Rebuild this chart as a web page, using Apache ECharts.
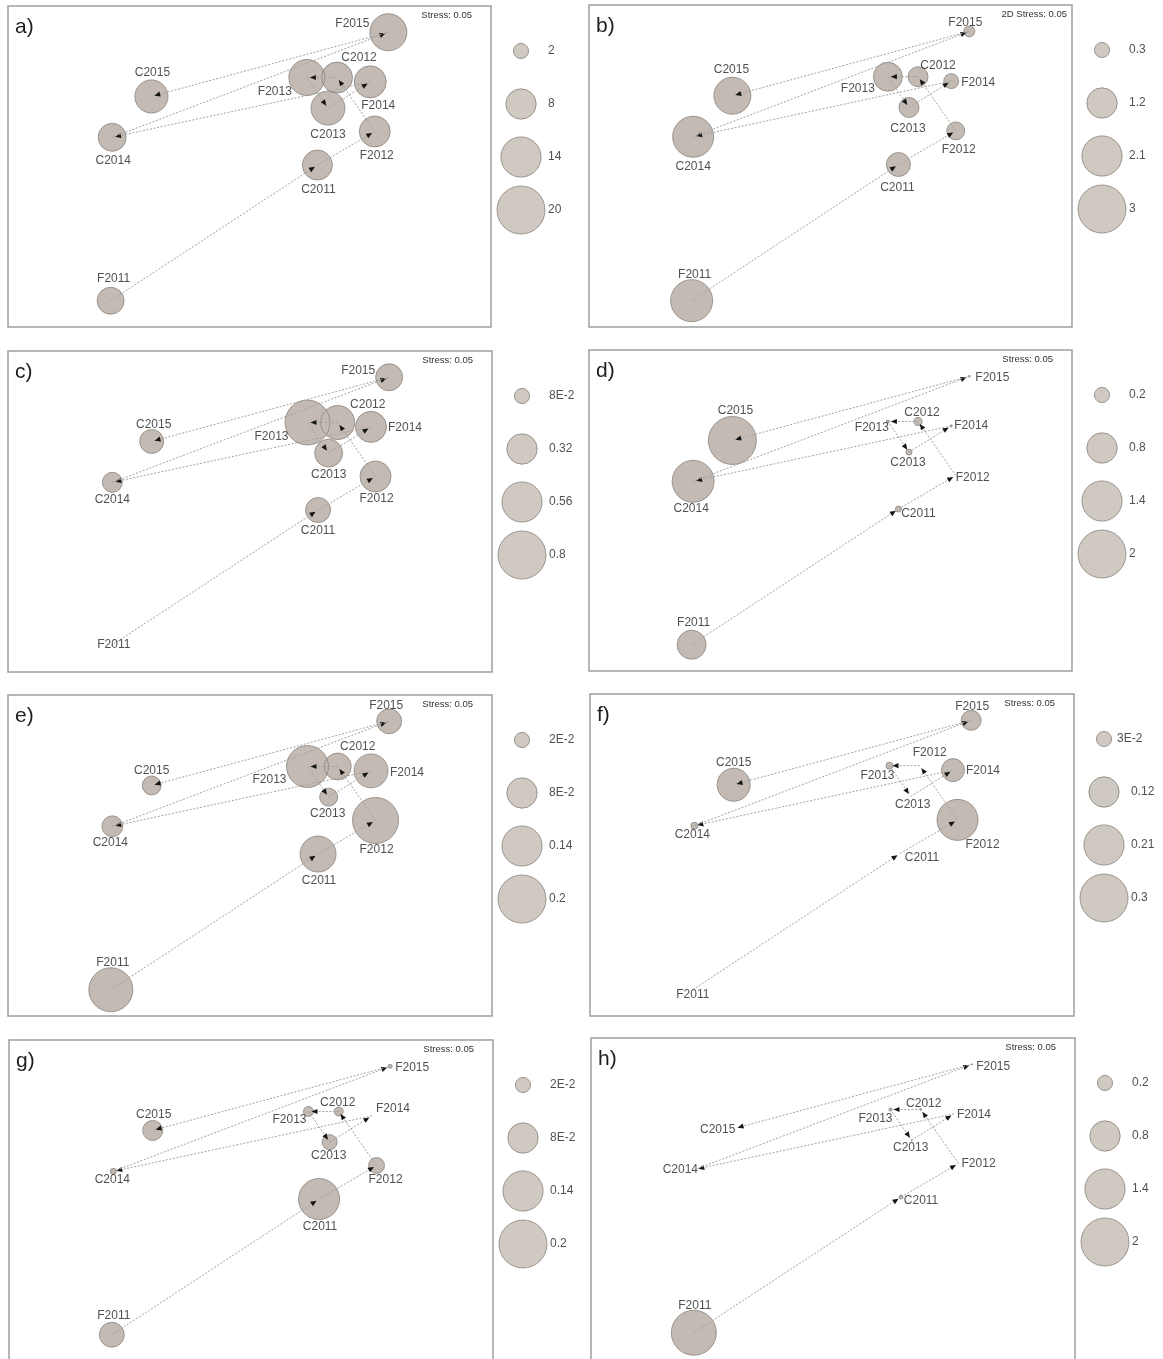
<!DOCTYPE html>
<html>
<head>
<meta charset="utf-8">
<title>nMDS bubble plots</title>
<script src="https://cdn.jsdelivr.net/npm/echarts@6/dist/echarts.min.js"></script>
<style>
  html, body { margin: 0; padding: 0; background: #ffffff; overflow: hidden; }
  /* drawing surface runs a little past the bottom of the window so the last row stays open */
  #chart { width: 1163px; height: 1390px; }
</style>
</head>
<body>
<div id="chart"></div>
<script>
// Sampling occasions in trajectory order
const sites = ['F2011', 'C2011', 'F2012', 'C2012', 'F2013', 'C2013', 'F2014', 'C2014', 'F2015', 'C2015'];
// Panel f prints F2012 on the C2012 point
const sitesF = ['F2011', 'C2011', 'F2012', 'F2012', 'F2013', 'C2013', 'F2014', 'C2014', 'F2015', 'C2015'];

// nMDS ordination (same for every panel)
const nmds1 = [-0.92, 0.45, 0.83, 0.58, 0.38, 0.52, 0.80, -0.91, 0.92, -0.65];
const nmds2 = [-0.92, 0.01, 0.24, 0.61, 0.61, 0.40, 0.58, 0.20, 0.92, 0.48];

// Bubble values, one array per panel (site order as above)
const valuesA = [6.3, 7.8, 8.3, 8.3, 11.3, 10.0, 8.9, 6.8, 11.9, 9.5];
const valuesB = [2.30, 0.75, 0.42, 0.52, 1.09, 0.52, 0.29, 2.19, 0.16, 1.78];
const valuesC = [0, 0.217, 0.334, 0.40, 0.70, 0.27, 0.334, 0.139, 0.253, 0.20];
const valuesD = [0.73, 0.031, 0, 0.056, 0.008, 0.031, 0.004, 1.53, 0.002, 2.0];
const valuesE = [0.168, 0.112, 0.184, 0.063, 0.153, 0.028, 0.100, 0.038, 0.054, 0.031];
const valuesF = [0, 0, 0.219, 0, 0.0064, 0, 0.069, 0.0064, 0.052, 0.142];
const valuesG = [0.054, 0.146, 0.022, 0.007, 0.0087, 0.0195, 0, 0.003, 0.0014, 0.035];
const valuesH = [1.76, 0.014, 0, 0.0035, 0.008, 0.001, 0, 0, 0.001, 0];

// Bubble key values and their printed labels
const keyA = [2, 8, 14, 20];            const keyLabelsA = ['2', '8', '14', '20'];
const keyB = [0.3, 1.2, 2.1, 3];        const keyLabelsB = ['0.3', '1.2', '2.1', '3'];
const keyC = [0.08, 0.32, 0.56, 0.8];   const keyLabelsC = ['8E-2', '0.32', '0.56', '0.8'];
const keyD = [0.2, 0.8, 1.4, 2];        const keyLabelsD = ['0.2', '0.8', '1.4', '2'];
const keyE = [0.02, 0.08, 0.14, 0.2];   const keyLabelsE = ['2E-2', '8E-2', '0.14', '0.2'];
const keyF = [0.03, 0.12, 0.21, 0.3];   const keyLabelsF = ['3E-2', '0.12', '0.21', '0.3'];
const keyG = [0.02, 0.08, 0.14, 0.2];   const keyLabelsG = ['2E-2', '8E-2', '0.14', '0.2'];
const keyH = [0.2, 0.8, 1.4, 2];        const keyLabelsH = ['0.2', '0.8', '1.4', '2'];

const panelTags = ['a)', 'b)', 'c)', 'd)', 'e)', 'f)', 'g)', 'h)'];
const stressTexts = ['Stress: 0.05', '2D Stress: 0.05', 'Stress: 0.05', 'Stress: 0.05',
                     'Stress: 0.05', 'Stress: 0.05', 'Stress: 0.05', 'Stress: 0.05'];

// ---------- layout ----------
// Every frame keeps the same ordination scale (321 px for the 2.2 units of NMDS2);
// the bottom row runs past the window edge, so its frames are taller and extend the y range.
const frames = [
  { left: 8,   top: 6,    width: 483, height: 321 },
  { left: 589, top: 5,    width: 483, height: 322 },
  { left: 8,   top: 351,  width: 484, height: 321 },
  { left: 589, top: 350,  width: 483, height: 321 },
  { left: 8,   top: 695,  width: 484, height: 321 },
  { left: 590, top: 694,  width: 484, height: 322 },
  { left: 9,   top: 1040, width: 484, height: 321, extra: 12 },
  { left: 591, top: 1038, width: 484, height: 321, extra: 12 }
];
const stressRight = [19, 5, 19, 19, 19, 19, 19, 19];
// horizontal nudge of individual key labels
const keyLabelShift = [
  [0, 0, 0, 0], [0, 0, 0, 0], [0, 0, 0, 0], [0, 0, 0, 0],
  [0, 0, 0, 0], [-14, 0, 0, 0], [0, 0, 0, 0], [0, 0, 0, 0]
];

// Label centre offsets (px) from each point, per panel
const labelOffsets = [
  [[3,-22],[1,25],[2,24],[22,-20],[-32,14],[0,27],[8,24],[1,23],[-36,-9],[1,-24]],
  [[3,-26],[-1,23],[3,19],[20,-11],[-30,12],[-1,21],[27,2],[0,30],[-4,-9],[-1,-26]],
  [[3,-1],[0,21],[1,22],[30,-18],[-36,14],[0,22],[34,1],[0,17],[-31,-7],[2,-17]],
  [[2,-22],[20,5],[17,2],[4,-9],[-16,6],[-1,11],[20,0],[-2,27],[23,1],[3,-30]],
  [[2,-27],[1,27],[1,29],[20,-20],[-38,13],[-1,17],[36,2],[-2,16],[-3,-16],[0,-15]],
  [[0,5],[22,4],[25,25],[10,-13],[-12,10],[2,8],[30,1],[-2,9],[1,-14],[0,-22]],
  [[2,-19],[1,28],[9,14],[-1,-9],[-19,8],[-1,14],[21,-7],[-1,8],[22,1],[1,-16]],
  [[1,-27],[20,4],[20,0],[3,-6],[-15,9],[-1,8],[20,1],[-15,0],[21,2],[-17,1]]
];

const panelValues = [valuesA, valuesB, valuesC, valuesD, valuesE, valuesF, valuesG, valuesH];
const panelKeys = [keyA, keyB, keyC, keyD, keyE, keyF, keyG, keyH];
const panelKeyLabels = [keyLabelsA, keyLabelsB, keyLabelsC, keyLabelsD, keyLabelsE, keyLabelsF, keyLabelsG, keyLabelsH];
const panelNames = [sites, sites, sites, sites, sites, sitesF, sites, sites];

// ---------- styles ----------
const FONT = 'Arial, "Liberation Sans", Helvetica, sans-serif';
const TEXT_COLOR = '#242424';
const BUBBLE_FILL = '#c3bbb3';
const BUBBLE_EDGE = '#8a837d';
const MAX_DIAM = 48;      // px diameter of the largest key bubble
const ARROW_GAP = 3;      // arrow tip stops short of the target point
const ARROW_LEN = 6;
const ARROW_HALF = 2.6;
const Y_MIN = -1.1, Y_MAX = 1.1;

function bubbleSize(v, vmax) {
  return v > 0 ? MAX_DIAM * Math.sqrt(v / vmax) : 0;
}

// Trajectory segment: dashed connector with a small arrowhead
function renderSegment(params, api) {
  const p0 = api.coord([api.value(0), api.value(1)]);
  const p1 = api.coord([api.value(2), api.value(3)]);
  const dx = p1[0] - p0[0], dy = p1[1] - p0[1];
  const len = Math.hypot(dx, dy) || 1;
  const ux = dx / len, uy = dy / len;
  const tip = [p1[0] - ux * ARROW_GAP, p1[1] - uy * ARROW_GAP];
  const base = [tip[0] - ux * ARROW_LEN, tip[1] - uy * ARROW_LEN];
  const nx = -uy, ny = ux;
  return {
    type: 'group',
    children: [
      {
        type: 'line',
        shape: { x1: p0[0], y1: p0[1], x2: tip[0], y2: tip[1] },
        style: { stroke: '#a3a3a3', lineWidth: 1, lineDash: [2, 1.6] }
      },
      {
        type: 'polygon',
        shape: { points: [tip, [base[0] + nx * ARROW_HALF, base[1] + ny * ARROW_HALF],
                               [base[0] - nx * ARROW_HALF, base[1] - ny * ARROW_HALF]] },
        style: { fill: '#141414' }
      }
    ]
  };
}

const grid = [], xAxis = [], yAxis = [], series = [], graphic = [];

frames.forEach(function (fr, i) {
  const vals = panelValues[i];
  const key = panelKeys[i];
  const vmax = key[key.length - 1];
  const names = panelNames[i];
  const extra = fr.extra || 0;
  const unitsPerPx = (Y_MAX - Y_MIN) / fr.height;

  // plot frame
  grid.push({ left: fr.left, top: fr.top, width: fr.width, height: fr.height + extra,
              show: true, borderColor: '#9e9e9e', borderWidth: 1.5, backgroundColor: '#ffffff' });
  xAxis.push({ type: 'value', gridIndex: 2 * i, min: -1.6, max: 1.6, show: false });
  yAxis.push({ type: 'value', gridIndex: 2 * i, min: Y_MIN - extra * unitsPerPx, max: Y_MAX, show: false });

  // bubble key area to the right of the frame
  const keyCx = fr.left + fr.width + 30;
  grid.push({ left: keyCx - 30, top: fr.top + 18.5, width: 60, height: 212, show: false });
  xAxis.push({ type: 'value', gridIndex: 2 * i + 1, min: 0, max: 1, show: false });
  yAxis.push({ type: 'category', gridIndex: 2 * i + 1, data: panelKeyLabels[i], inverse: true, show: false });

  const ax = 2 * i;
  const points = sites.map(function (s, k) { return [nmds1[k], nmds2[k], vals[k]]; });

  // bubble fills
  series.push({
    type: 'scatter', xAxisIndex: ax, yAxisIndex: ax, z: 2, silent: true,
    data: points,
    symbol: 'circle',
    symbolSize: function (d) { return bubbleSize(d[2], vmax); },
    itemStyle: { color: BUBBLE_FILL, opacity: 1 }
  });
  // bubble outlines drawn over all fills
  series.push({
    type: 'scatter', xAxisIndex: ax, yAxisIndex: ax, z: 3, silent: true,
    data: points,
    symbol: 'circle',
    symbolSize: function (d) { return bubbleSize(d[2], vmax); },
    itemStyle: { color: 'rgba(0,0,0,0)', borderColor: BUBBLE_EDGE, borderWidth: 1 }
  });
  // year-to-year trajectory
  const segments = [];
  for (let k = 0; k < sites.length - 1; k++) {
    segments.push([nmds1[k], nmds2[k], nmds1[k + 1], nmds2[k + 1]]);
  }
  series.push({
    type: 'custom', xAxisIndex: ax, yAxisIndex: ax, z: 4, silent: true,
    renderItem: renderSegment,
    encode: { x: [0, 2], y: [1, 3] },
    data: segments
  });
  // point labels
  series.push({
    type: 'scatter', xAxisIndex: ax, yAxisIndex: ax, z: 5, silent: true,
    symbolSize: 1,
    itemStyle: { color: 'rgba(0,0,0,0)' },
    data: sites.map(function (s, k) {
      return { name: names[k], value: [nmds1[k], nmds2[k]],
               label: { offset: labelOffsets[i][k] } };
    }),
    label: { show: true, position: 'inside', formatter: '{b}', color: TEXT_COLOR,
             fontFamily: FONT, fontSize: 12 }
  });

  // bubble key
  series.push({
    type: 'scatter', xAxisIndex: ax + 1, yAxisIndex: ax + 1, z: 3, silent: true,
    data: key.map(function (v, k) {
      return { value: [0.5, k, v], label: { offset: [27 + keyLabelShift[i][k], 0] } };
    }),
    symbol: 'circle',
    symbolSize: function (d) { return bubbleSize(d[2], vmax); },
    itemStyle: { color: BUBBLE_FILL, borderColor: BUBBLE_EDGE, borderWidth: 1 },
    label: { show: true, position: 'inside', align: 'left',
             color: TEXT_COLOR, fontFamily: FONT, fontSize: 12,
             formatter: function (p) { return panelKeyLabels[i][p.dataIndex]; } }
  });

  // panel tag and stress value
  graphic.push({
    type: 'text', x: fr.left + 7, y: fr.top + 21, z: 10, silent: true,
    style: { text: panelTags[i], fontFamily: FONT, fontSize: 21, fill: '#1e1e1e',
             align: 'left', verticalAlign: 'middle' }
  });
  graphic.push({
    type: 'text', x: fr.left + fr.width - stressRight[i], y: fr.top + 9, z: 10, silent: true,
    style: { text: stressTexts[i], fontFamily: FONT, fontSize: 9.5, fill: '#333333',
             align: 'right', verticalAlign: 'middle' }
  });
});

const chart = echarts.init(document.getElementById('chart'), null, { renderer: 'canvas' });
chart.setOption({
  animation: false,
  backgroundColor: '#ffffff',
  grid: grid,
  xAxis: xAxis,
  yAxis: yAxis,
  series: series,
  graphic: graphic
});
</script>
</body>
</html>
